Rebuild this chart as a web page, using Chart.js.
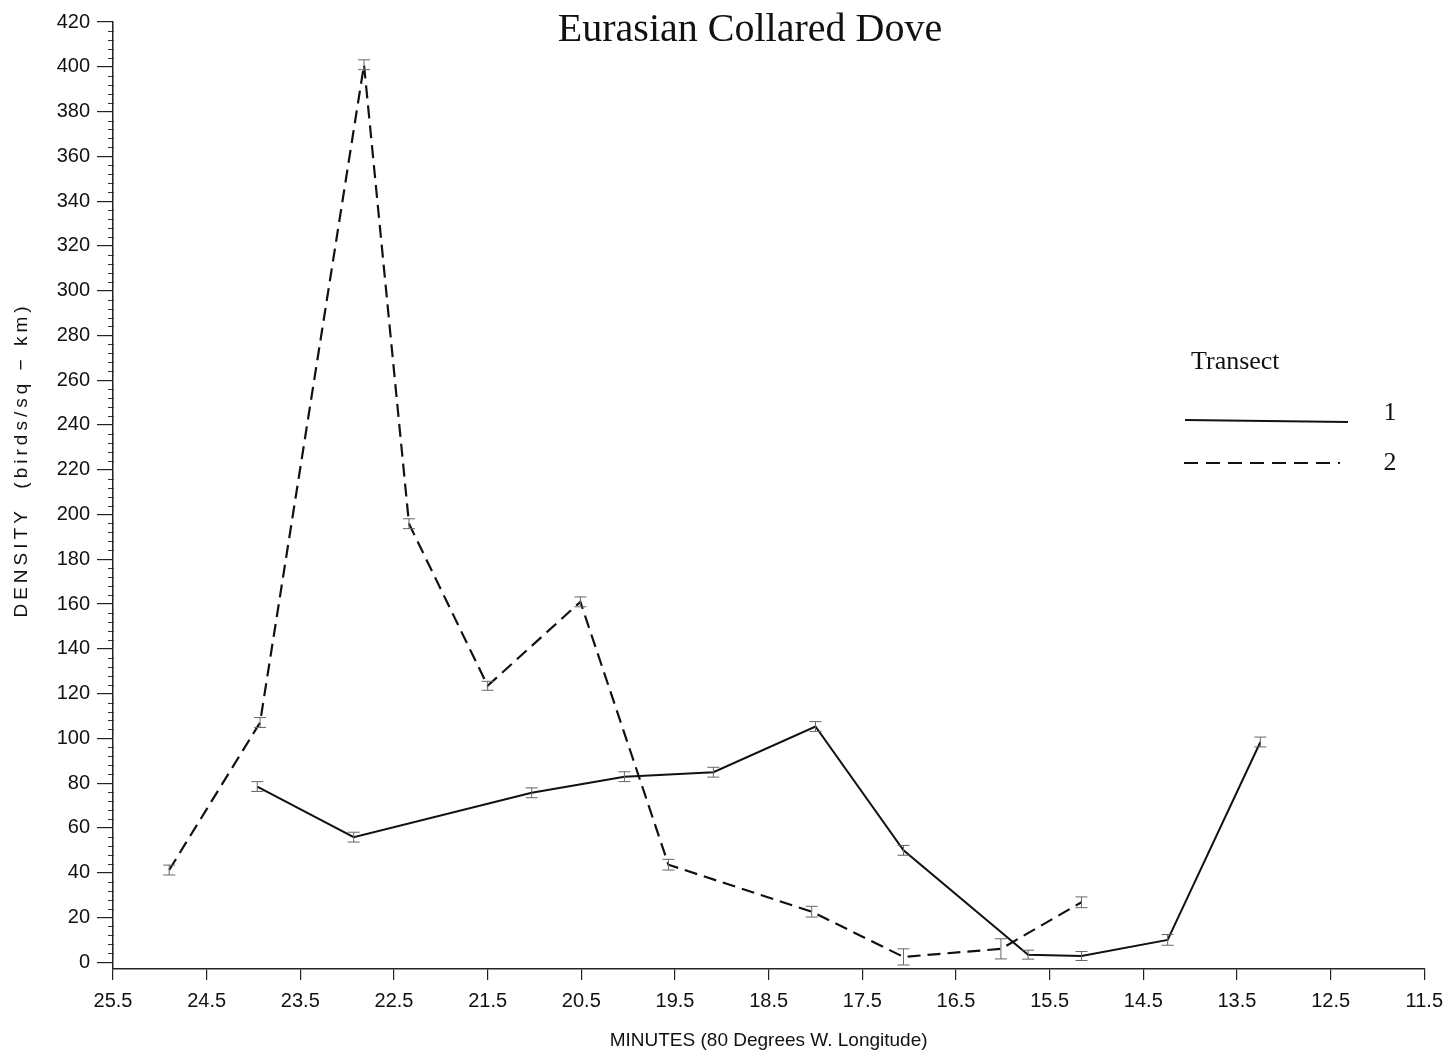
<!DOCTYPE html>
<html>
<head>
<meta charset="utf-8">
<script src="https://cdn.jsdelivr.net/npm/chart.js@4/dist/chart.umd.min.js"></script>
<style>
  html, body { margin: 0; padding: 0; background: #ffffff; }
  #wrap { position: relative; width: 1452px; height: 1063px; }
</style>
</head>
<body>
<div id="wrap"><canvas id="c" width="1452" height="1063"></canvas></div>
<script>
// ---------- data ----------
const chartTitle = 'Eurasian Collared Dove';
const xAxisTitle = 'MINUTES (80 Degrees W. Longitude)';
const yAxisTitle = 'DENSITY  (birds/sq \u2212 km)';
const legendTitle = 'Transect';
const seriesNames = ['1', '2'];

const xTickValues = [25.5, 24.5, 23.5, 22.5, 21.5, 20.5, 19.5, 18.5, 17.5, 16.5, 15.5, 14.5, 13.5, 12.5, 11.5];
const yTickValues = [0, 20, 40, 60, 80, 100, 120, 140, 160, 180, 200, 220, 240, 260, 280, 300, 320, 340, 360, 380, 400, 420];

const transect1Minutes = [23.96, 22.93, 21.03, 20.04, 19.09, 18.00, 17.06, 15.73, 15.16, 14.24, 13.25];
const transect1Density = [78.5, 55.9, 75.7, 82.9, 84.9, 105.3, 50.0, 3.4, 2.8, 10.0, 98.4];
const transect1Error   = [2.2, 2.2, 2.2, 2.2, 2.2, 2.2, 2.2, 2.0, 2.0, 2.4, 2.2];

const transect2Minutes = [24.90, 23.93, 22.82, 22.34, 21.50, 20.51, 19.57, 18.04, 17.06, 16.02, 15.16];
const transect2Density = [41.2, 107.1, 400.9, 195.9, 123.5, 161.0, 43.6, 22.6, 2.4, 6.0, 26.8];
const transect2Error   = [2.2, 2.2, 2.2, 2.2, 2.0, 2.2, 2.4, 2.4, 3.6, 4.5, 2.4];

// ---------- styling ----------
const NARROW = "'Liberation Sans Narrow', 'Liberation Sans', sans-serif";
const SANS = "'Liberation Sans', 'DejaVu Sans', sans-serif";
const SERIF = "'Liberation Serif', 'DejaVu Serif', serif";
const INK = '#111111';

function toPoints(xs, ys) { return xs.map((v, i) => ({ x: v, y: ys[i] })); }

const errorBarPlugin = {
  id: 'errorBars',
  afterDatasetsDraw(chart) {
    const { ctx } = chart;
    const xs = chart.scales.x, ys = chart.scales.y;
    ctx.save();
    ctx.strokeStyle = '#666666';
    ctx.lineWidth = 1;
    chart.data.datasets.forEach(ds => {
      ds.data.forEach((p, i) => {
        const e = ds.errors[i];
        const px = xs.getPixelForValue(p.x);
        const lo = ys.getPixelForValue(p.y - e);
        const hi = ys.getPixelForValue(p.y + e);
        ctx.beginPath();
        ctx.moveTo(px, lo); ctx.lineTo(px, hi);
        ctx.moveTo(px - 6, lo); ctx.lineTo(px + 6, lo);
        ctx.moveTo(px - 6, hi); ctx.lineTo(px + 6, hi);
        ctx.stroke();
      });
    });
    ctx.restore();
  }
};

const decorPlugin = {
  id: 'decor',
  afterDraw(chart) {
    const { ctx, chartArea } = chart;
    const ys = chart.scales.y;
    ctx.save();
    // minor ticks on y axis
    ctx.strokeStyle = '#333';
    ctx.lineWidth = 1;
    for (let v = 4; v < 420; v += 4) {
      if (v % 20 === 0) continue;
      const py = Math.round(ys.getPixelForValue(v)) + 0.5;
      ctx.beginPath();
      ctx.moveTo(chartArea.left - 5, py);
      ctx.lineTo(chartArea.left + 1, py);
      ctx.stroke();
    }
    // title
    ctx.fillStyle = INK;
    ctx.font = '40px ' + SERIF;
    ctx.textAlign = 'center';
    ctx.textBaseline = 'alphabetic';
    ctx.fillText(chartTitle, 750, 41);
    // y axis title (rotated, letter-spaced)
    ctx.save();
    ctx.translate(27, 460);
    ctx.rotate(-Math.PI / 2);
    ctx.font = '19px ' + SANS;
    try { ctx.letterSpacing = '4px'; } catch (e) {}
    ctx.textAlign = 'center';
    ctx.fillText(yAxisTitle, 0, 0);
    ctx.restore();
    // legend
    ctx.font = '26px ' + SERIF;
    ctx.textAlign = 'left';
    ctx.fillText(legendTitle, 1191, 369);
    ctx.textAlign = 'center';
    ctx.fillText(seriesNames[0], 1390, 420);
    ctx.fillText(seriesNames[1], 1390, 470);
    ctx.strokeStyle = INK;
    ctx.lineWidth = 2;
    ctx.beginPath();
    ctx.moveTo(1185, 420); ctx.lineTo(1348, 422);
    ctx.stroke();
    ctx.setLineDash([14, 8]);
    ctx.beginPath();
    ctx.moveTo(1184, 463); ctx.lineTo(1340, 463);
    ctx.stroke();
    ctx.restore();
  }
};

new Chart(document.getElementById('c'), {
  type: 'line',
  data: {
    datasets: [
      {
        label: seriesNames[0],
        data: toPoints(transect1Minutes, transect1Density),
        errors: transect1Error,
        borderColor: INK,
        borderWidth: 2,
        pointRadius: 0,
        tension: 0,
        fill: false
      },
      {
        label: seriesNames[1],
        data: toPoints(transect2Minutes, transect2Density),
        errors: transect2Error,
        borderColor: INK,
        borderWidth: 2.2,
        borderDash: [13, 7],
        pointRadius: 0,
        tension: 0,
        fill: false
      }
    ]
  },
  options: {
    responsive: false,
    animation: false,
    devicePixelRatio: 1,
    layout: { padding: { left: 0, right: 14, top: 22, bottom: 0 } },
    plugins: {
      legend: { display: false },
      tooltip: { enabled: false },
      title: { display: false }
    },
    scales: {
      x: {
        type: 'linear',
        reverse: true,
        min: 11.5,
        max: 25.5,
        afterBuildTicks: s => { s.ticks = xTickValues.map(v => ({ value: v })); },
        afterFit: s => { s.height = 94; },
        ticks: {
          autoSkip: false,
          maxRotation: 0,
          color: INK,
          padding: 9,
          font: { family: NARROW, size: 20 },
          callback: v => Number(v).toFixed(1)
        },
        grid: { drawOnChartArea: false, drawTicks: true, tickLength: 11, color: '#222', lineWidth: 1.2 },
        border: { display: true, color: '#222', width: 1.5 },
        title: {
          display: true,
          text: xAxisTitle,
          color: INK,
          font: { family: NARROW, size: 19 },
          padding: { top: 0, bottom: 11 }
        }
      },
      y: {
        type: 'linear',
        min: -3,
        max: 420,
        afterBuildTicks: s => { s.ticks = yTickValues.map(v => ({ value: v })); },
        afterFit: s => { s.width = 113; },
        ticks: {
          color: INK,
          padding: 7,
          font: { family: NARROW, size: 20 }
        },
        grid: { drawOnChartArea: false, drawTicks: true, tickLength: 16, color: '#222', lineWidth: 1.2 },
        border: { display: true, color: '#222', width: 1.5 },
        title: { display: false }
      }
    }
  },
  plugins: [errorBarPlugin, decorPlugin]
});
</script>
</body>
</html>
